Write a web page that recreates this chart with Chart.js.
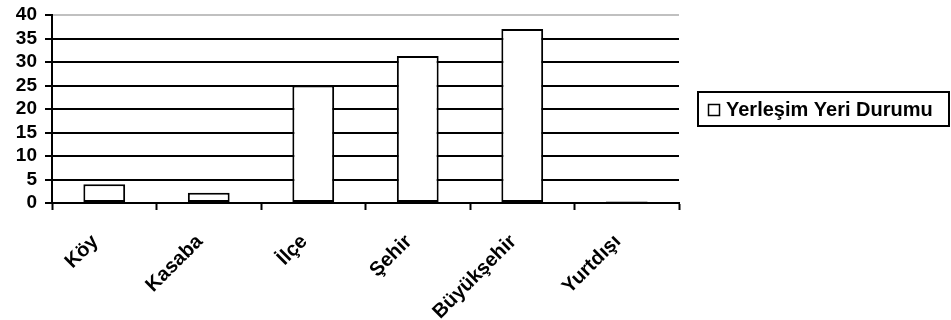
<!DOCTYPE html>
<html>
<head>
<meta charset="utf-8">
<script src="https://cdn.jsdelivr.net/npm/chart.js@4"></script>
<style>
  html, body { margin: 0; padding: 0; background: #fff; }
  #wrap { width: 951px; height: 320px; }
</style>
</head>
<body>
<div id="wrap"><canvas id="grafico" width="951" height="320"></canvas></div>
<script>
// data
const kategoriler = ['Köy', 'Kasaba', 'İlçe', 'Şehir', 'Büyükşehir', 'Yurtdışı'];
const degerler = [4, 2.2, 25, 31.3, 37, 0.3];
const seriAdi = 'Yerleşim Yeri Durumu';
const yMin = 0;
const yMax = 40;
const yAdim = 5;

const yazi = '"Liberation Sans", Arial, sans-serif';

// legend with a frame, drawn after the chart
const cerceveliLejant = {
    id: 'cerceveliLejant',
    afterDraw(chart) {
        const ctx = chart.ctx;
        const ds = chart.data.datasets[0];
        ctx.save();
        ctx.lineWidth = 2;
        ctx.strokeStyle = '#000';
        ctx.fillStyle = '#fff';
        ctx.fillRect(698, 92, 251, 34);
        ctx.strokeRect(698, 92, 251, 34);
        // small square marker
        ctx.lineWidth = 1.5;
        ctx.strokeRect(708.5, 104.5, 11, 11);
        ctx.fillStyle = '#000';
        ctx.font = 'bold 20px ' + yazi;
        ctx.textBaseline = 'middle';
        ctx.textAlign = 'left';
        ctx.fillText(ds.label, 726, 110);
        ctx.restore();
    }
};

new Chart(document.getElementById('grafico'), {
    type: 'bar',
    data: {
        labels: kategoriler,
        datasets: [{
            label: seriAdi,
            data: degerler,
            backgroundColor: '#fff',
            borderColor: '#000',
            borderWidth: 2,
            borderSkipped: false,
            barPercentage: 0.4,
            categoryPercentage: 1
        }]
    },
    options: {
        responsive: false,
        animation: false,
        layout: { padding: { left: 0, right: 272, top: 15, bottom: 0 } },
        plugins: {
            legend: { display: false },
            tooltip: { enabled: false }
        },
        scales: {
            x: {
                grid: {
                    offset: true,
                    drawOnChartArea: false,
                    drawTicks: true,
                    tickLength: 7,
                    tickColor: '#000',
                    tickWidth: 2
                },
                border: { color: '#000', width: 2 },
                ticks: {
                    color: '#000',
                    minRotation: 45,
                    maxRotation: 45,
                    autoSkip: false,
                    padding: 20,
                    labelOffset: -9,
                    font: { family: yazi, size: 20, weight: 'bold' }
                },
                afterFit(scale) {
                    scale.height = 117;
                    scale.paddingLeft = 0;
                    scale.paddingRight = 0;
                }
            },
            y: {
                min: yMin,
                max: yMax,
                ticks: {
                    stepSize: yAdim,
                    autoSkip: false,
                    color: '#000',
                    padding: 8,
                    font: { family: yazi, size: 19, weight: 'bold' }
                },
                grid: {
                    color: (c) => (c.tick && c.tick.value === yMax) ? '#c0c0c0' : '#000',
                    lineWidth: 2,
                    tickLength: 7,
                    tickColor: '#000',
                    tickWidth: 2
                },
                border: { color: '#000', width: 2 },
                afterFit(scale) {
                    scale.width = 52;
                    scale.paddingTop = 0;
                    scale.paddingBottom = 0;
                }
            }
        }
    },
    plugins: [cerceveliLejant]
});
</script>
</body>
</html>
